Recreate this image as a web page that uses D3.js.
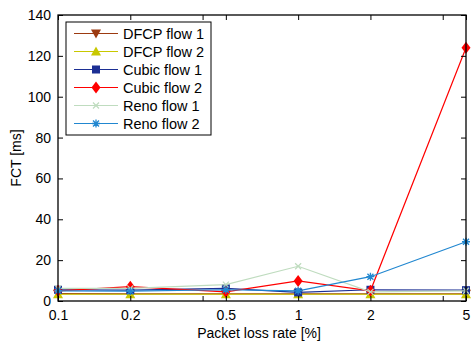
<!DOCTYPE html>
<html>
<head>
<meta charset="utf-8">
<script src="https://cdn.jsdelivr.net/npm/d3@7"></script>
<style>
  body { margin: 0; background: #fff; }
  text { font-family: "Liberation Sans", Arial, sans-serif; }
</style>
</head>
<body>
<div id="chart"></div>
<script>
// FCT vs packet loss rate, one line per flow

const lossRates = [0.1, 0.2, 0.5, 1, 2, 5];
const xTicks = [0.1, 0.2, 0.4, 0.5, 1, 2, 4, 5];
const xTickLabels = ["0.1", "0.2", "", "0.5", "1", "2", "", "5"];
const yTicks = [0, 20, 40, 60, 80, 100, 120, 140];

const seriesNames = ["DFCP flow 1", "DFCP flow 2", "Cubic flow 1", "Cubic flow 2", "Reno flow 1", "Reno flow 2"];
const dfcpFlow1 = [3.6, 3.5, 3.5, 3.5, 3.5, 3.5];
const dfcpFlow2 = [3.3, 3.3, 3.3, 3.3, 3.3, 3.3];
const cubicFlow1 = [5.5, 5.3, 6.2, 4.2, 5.5, 5.3];
const cubicFlow2 = [5, 7, 4.5, 9.8, 5, 124];
const renoFlow1 = [6.2, 6.2, 8, 17, 4.5, 5];
const renoFlow2 = [5, 4.8, 5.5, 5, 11.9, 29];

const seriesColors = ["#9c3a10", "#c8c800", "#1c2f94", "#ff0000", "#bfdcbf", "#2187d0"];
const seriesMarkers = ["tri-down", "tri-up", "square", "diamond", "cross", "star"];

(function() {
    const W = 471, H = 341;
    const m = {left: 58, right: 5, top: 15, bottom: 40};
    const pw = W - m.left - m.right, ph = H - m.top - m.bottom;

    const svg = d3.select("#chart").append("svg")
        .attr("width", W).attr("height", H);

    const x = d3.scaleLog().domain([0.1, 5]).range([0, pw]);
    const y = d3.scaleLinear().domain([0, 140]).range([ph, 0]);

    const g = svg.append("g").attr("transform", `translate(${m.left},${m.top})`);

    const allSeries = [dfcpFlow1, dfcpFlow2, cubicFlow1, cubicFlow2, renoFlow1, renoFlow2];

    // Marker drawing
    function drawMarker(sel, type, color, cx, cy) {
        if (type === "tri-down") {
            sel.append("path").attr("d", `M${cx-5},${cy-4}L${cx+5},${cy-4}L${cx},${cy+5}Z`).attr("fill", color);
        } else if (type === "tri-up") {
            sel.append("path").attr("d", `M${cx-5},${cy+4}L${cx+5},${cy+4}L${cx},${cy-5}Z`).attr("fill", color);
        } else if (type === "square") {
            sel.append("rect").attr("x", cx - 4).attr("y", cy - 4).attr("width", 8).attr("height", 8).attr("fill", color);
        } else if (type === "diamond") {
            sel.append("path").attr("d", `M${cx},${cy-6}L${cx+4.5},${cy}L${cx},${cy+6}L${cx-4.5},${cy}Z`).attr("fill", color);
        } else if (type === "cross") {
            sel.append("path").attr("d", `M${cx-3},${cy-3}L${cx+3},${cy+3}M${cx-3},${cy+3}L${cx+3},${cy-3}`)
                .attr("stroke", color).attr("stroke-width", 1.2);
        } else if (type === "star") {
            sel.append("path").attr("d", `M${cx-4},${cy}L${cx+4},${cy}M${cx},${cy-4}L${cx},${cy+4}M${cx-3},${cy-3}L${cx+3},${cy+3}M${cx-3},${cy+3}L${cx+3},${cy-3}`)
                .attr("stroke", color).attr("stroke-width", 1.3);
        }
    }

    const line = d3.line().x((d, i) => x(lossRates[i])).y(d => y(d));

    allSeries.forEach((vals, k) => {
        const sg = g.append("g");
        sg.append("path").datum(vals).attr("d", line)
            .attr("fill", "none").attr("stroke", seriesColors[k]).attr("stroke-width", 1.2);
        vals.forEach((v, i) => drawMarker(sg, seriesMarkers[k], seriesColors[k], x(lossRates[i]), y(v)));
    });

    // Axes with inward ticks on all four sides
    const axisStyle = a => a.call(s => {
        s.select(".domain").remove();
        s.selectAll("line").attr("stroke", "#000");
        s.selectAll("text").attr("font-size", 14).attr("fill", "#000");
    });

    g.append("g").attr("transform", `translate(0,${ph})`)
        .call(d3.axisBottom(x).tickValues(xTicks).tickFormat((d, i) => xTickLabels[i]).tickSizeInner(-5).tickSizeOuter(0).tickPadding(9))
        .call(axisStyle);
    g.append("g")
        .call(d3.axisTop(x).tickValues(xTicks).tickFormat("").tickSizeInner(-5).tickSizeOuter(0))
        .call(axisStyle);
    g.append("g")
        .call(d3.axisLeft(y).tickValues(yTicks).tickSizeInner(-5).tickSizeOuter(0).tickPadding(7))
        .call(axisStyle);
    g.append("g").attr("transform", `translate(${pw},0)`)
        .call(d3.axisRight(y).tickValues(yTicks).tickFormat("").tickSizeInner(-5).tickSizeOuter(0))
        .call(axisStyle);

    g.append("rect").attr("width", pw).attr("height", ph)
        .attr("fill", "none").attr("stroke", "#000").attr("stroke-width", 1.3);

    // axis titles
    svg.append("text").attr("x", m.left + pw / 2 - 3).attr("y", 338)
        .attr("text-anchor", "middle").attr("font-size", 14).text("Packet loss rate [%]");
    svg.append("text").attr("transform", `translate(21,${m.top + ph / 2}) rotate(-90)`)
        .attr("text-anchor", "middle").attr("font-size", 14).text("FCT [ms]");

    // legend
    const lg = svg.append("g").attr("transform", "translate(66,22)");
    lg.append("rect").attr("width", 145).attr("height", 113)
        .attr("fill", "#fff").attr("stroke", "#000").attr("stroke-width", 1);
    seriesNames.forEach((name, k) => {
        const ly = 11.5 + k * 18;
        lg.append("line").attr("x1", 8).attr("x2", 52).attr("y1", ly).attr("y2", ly)
            .attr("stroke", seriesColors[k]).attr("stroke-width", 1.2);
        drawMarker(lg, seriesMarkers[k], seriesColors[k], 30, ly);
        lg.append("text").attr("x", 57).attr("y", ly + 5).attr("font-size", 14.5).text(name);
    });
})();
</script>
</body>
</html>
